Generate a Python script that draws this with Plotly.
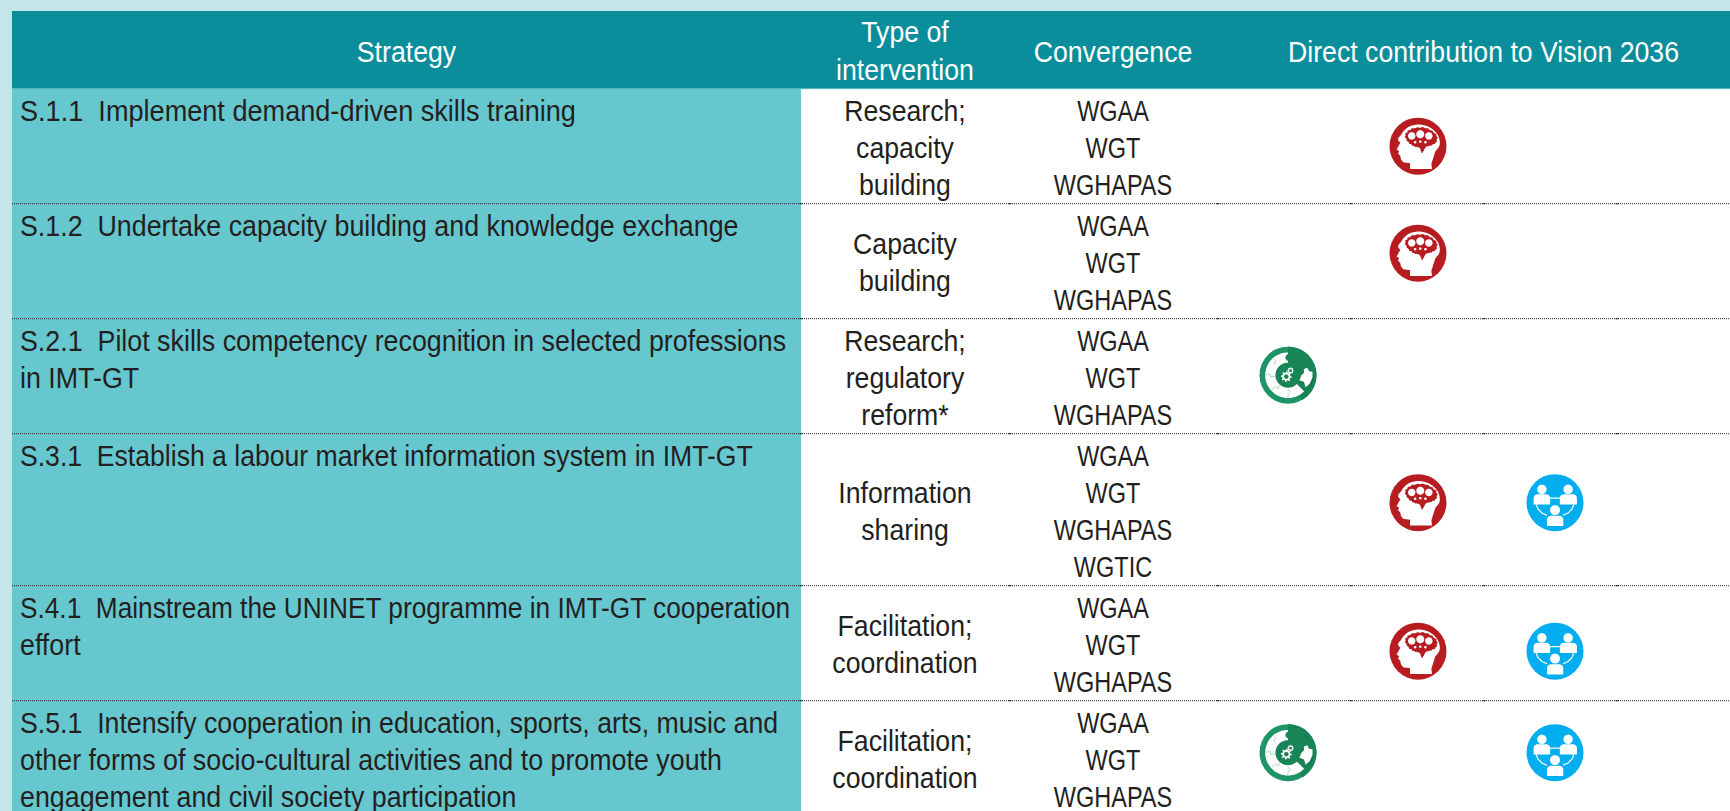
import json
import math
import plotly.graph_objects as go

# ---------- table content ----------
headers = ["Strategy", "Type of|intervention", "Convergence", "Direct contribution to Vision 2036"]
strategy = [
    ["S.1.1  Implement demand-driven skills training"],
    ["S.1.2  Undertake capacity building and knowledge exchange"],
    ["S.2.1  Pilot skills competency recognition in selected professions", "in IMT-GT"],
    ["S.3.1  Establish a labour market information system in IMT-GT"],
    ["S.4.1  Mainstream the UNINET programme in IMT-GT cooperation", "effort"],
    ["S.5.1  Intensify cooperation in education, sports, arts, music and",
     "other forms of socio-cultural activities and to promote youth",
     "engagement and civil society participation"],
]
intervention = [
    ["Research;", "capacity", "building"],
    ["Capacity", "building"],
    ["Research;", "regulatory", "reform*"],
    ["Information", "sharing"],
    ["Facilitation;", "coordination"],
    ["Facilitation;", "coordination"],
]
convergence = [
    ["WGAA", "WGT", "WGHAPAS"],
    ["WGAA", "WGT", "WGHAPAS"],
    ["WGAA", "WGT", "WGHAPAS"],
    ["WGAA", "WGT", "WGHAPAS", "WGTIC"],
    ["WGAA", "WGT", "WGHAPAS"],
    ["WGAA", "WGT", "WGHAPAS"],
]
# which Vision 2036 pillar icons each strategy contributes to
vision = [
    ["head"],
    ["head"],
    ["puzzle"],
    ["head", "people"],
    ["head", "people"],
    ["puzzle", "people"],
]

# ---------- layout constants ----------
W, H = 1730, 811
TABLE_L, STRAT_R = 12, 801
HEAD_T, HEAD_B = 11, 88.7
LINE_H, ROW_PAD = 37, 4
FS = 29
MID = 0.3 * FS
TYPE_X, CONV_X, STRAT_HDR_X, VIS_HDR_X = 905, 1113, 406.5, 1483.5
TEXT_L = 20
ICON_X = {"puzzle": 1288, "head": 1418, "people": 1555}
ICON_R = 28.5
ICON_COL = {"puzzle": "#1E9467", "head": "#B71C20", "people": "#02AEEF"}
ICON_SHIFT = [0, -8, -1, -7, 8, -5.5]
COL_TICKS = [801, 1010, 1218, 1351, 1484, 1617]
INK = "#231F20"
TEAL_D, TEAL_L, PAGE = "#0B8E9C", "#67C7CF", "#C4E6EB"
# the reference face is a condensed grotesque: horizontal squeeze per text trace
TEXT_SQUEEZE = [0.92, 0.925, 0.92, 0.81]
LINE_SQUEEZE = {"S.4.1": 0.905, "S.1.1": 0.935, "S.3.1": 0.917, "S.5.1": 0.921}

row_lines = [max(len(a), len(b), len(c)) for a, b, c in zip(strategy, intervention, convergence)]
row_top = [HEAD_B]
for n in row_lines:
    row_top.append(row_top[-1] + n * LINE_H + ROW_PAD)

FONT = "Liberation Sans, Arial, sans-serif"
shapes = []


def rect(x0, y0, x1, y1, col):
    shapes.append(dict(type="rect", xref="x", yref="y", x0=x0, y0=y0, x1=x1, y1=y1,
                       fillcolor=col, line_width=0, layer="below"))


def poly(cx, cy, pts, col, close=True, lw=0, linecol=None, layer="above"):
    d = "M" + " L".join(f"{cx + ICON_R * x:.2f},{cy + ICON_R * y:.2f}" for x, y in pts)
    if close:
        d += " Z"
    s = dict(type="path", xref="x", yref="y", path=d, layer=layer)
    if close:
        s["fillcolor"] = col
    s["line"] = dict(width=lw, color=linecol or col)
    shapes.append(s)


def disc(cx, cy, x, y, r, col):
    pts = [(x + r * math.cos(i * math.pi / 18), y + r * math.sin(i * math.pi / 18)) for i in range(36)]
    poly(cx, cy, pts, col)


def arc(r, a0, a1, n=30):
    return [(r * math.sin(math.radians(a0 + (a1 - a0) * i / n)),
             -r * math.cos(math.radians(a0 + (a1 - a0) * i / n))) for i in range(n + 1)]


def smooth(ctrl, k=8):
    """Catmull-Rom through glyph outline points."""
    out = []
    n = len(ctrl)
    for i in range(n):
        p0, p1, p2, p3 = ctrl[i - 1], ctrl[i], ctrl[(i + 1) % n], ctrl[(i + 2) % n]
        for j in range(k):
            t = j / k
            f = lambda a, b, c, d: 0.5 * (2 * b + (c - a) * t + (2 * a - 5 * b + 4 * c - d) * t * t
                                          + (3 * b - a - 3 * c + d) * t ** 3)
            out.append((f(p0[0], p1[0], p2[0], p3[0]), f(p0[1], p1[1], p2[1], p3[1])))
    return out


def head_icon(cx, cy):
    white, red = "#FFFFFF", ICON_COL["head"]
    top = smooth([(-0.62, -0.12), (-0.58, -0.42), (-0.34, -0.67), (0.02, -0.76), (0.42, -0.66),
                  (0.70, -0.38), (0.76, -0.05), (0.60, 0.20), (0.50, 0.42)])[:58]
    outline = top + [(0.47, 0.62), (0.49, 0.80), (-0.28, 0.80), (-0.28, 0.60), (-0.52, 0.56),
                     (-0.60, 0.46), (-0.62, 0.34), (-0.70, 0.26), (-0.66, 0.18), (-0.75, 0.12)]
    poly(cx, cy, outline, white)
    blob = [(-0.45, -0.38), (-0.28, -0.58), (0.08, -0.66), (0.42, -0.58), (0.66, -0.36), (0.62, -0.12),
            (0.42, -0.02), (0.28, 0.02), (0.22, 0.12), (0.14, 0.24), (0.08, 0.10), (0.02, 0.04),
            (-0.14, 0.0), (-0.34, -0.14)]
    brain = []
    for i, (x, y) in enumerate(smooth(blob, 4)):
        s = 1.04 if i % 2 else 0.97
        brain.append((0.1 + (x - 0.1) * s, -0.28 + (y + 0.28) * s))
    poly(cx, cy, brain, red)
    for x, y, r in [(-0.22, -0.36, 0.13), (0.08, -0.42, 0.14), (0.38, -0.36, 0.13)]:
        disc(cx, cy, x, y, r, white)
    for x, y in [(-0.10, -0.14), (0.08, -0.16), (0.26, -0.14)]:
        disc(cx, cy, x, y, 0.045, white)


def rounded_body(x0, y0, x1, y1):
    r = 0.12
    return [(x0, y1), (x0, y0 + r), (x0 + r * 0.3, y0 + r * 0.3), (x0 + r, y0), (x1 - r, y0),
            (x1 - r * 0.3, y0 + r * 0.3), (x1, y0 + r), (x1, y1)]


def people_icon(cx, cy):
    white = "#FFFFFF"
    # links between the three figures
    poly(cx, cy, [(-0.2, -0.16), (0.2, -0.16)], white, close=False, lw=1.2, linecol=white)
    for sgn in (-1, 1):
        pts = [(sgn * 0.66, 0.06), (sgn * 0.6, 0.22), (sgn * 0.46, 0.36), (sgn * 0.28, 0.44)]
        poly(cx, cy, pts, white, close=False, lw=1.2, linecol=white)
    for hx, hy, hr, b in [(-0.46, -0.47, 0.165, (-0.75, -0.3, -0.17, 0.06)),
                          (0.46, -0.47, 0.165, (0.17, -0.3, 0.77, 0.06)),
                          (0.0, 0.26, 0.175, (-0.28, 0.46, 0.29, 0.82))]:
        disc(cx, cy, hx, hy, hr, white)
        poly(cx, cy, rounded_body(*b), white)


def gear(cx, cy, x, y, r, hole):
    pts = []
    for i in range(32):
        a = i * math.pi / 16
        rr = r if (i // 2) % 2 == 0 else r * 0.72
        pts.append((x + rr * math.cos(a), y + rr * math.sin(a)))
    poly(cx, cy, pts, "#FFFFFF")
    disc(cx, cy, x, y, r * 0.42, hole)


def puzzle_icon(cx, cy):
    dark, white = "#178556", "#FFFFFF"
    shade = "#15784E"
    poly(cx, cy, [(0, 0)] + arc(1.0, 0, 150), dark)
    # white jigsaw ring, running anticlockwise from twelve o'clock
    poly(cx, cy, [(0, 0)] + arc(0.80, 135, 360, 50), white)
    poly(cx, cy, arc(0.44, 0, 360, 40), dark)
    # ring notch at the top and seams
    disc(cx, cy, 0.03, -0.62, 0.12, dark)
    seam = "#9CCDB6"
    for p in ([(-0.50, -0.58), (-0.42, -0.50), (-0.50, -0.44), (-0.44, -0.36)],
              [(-0.78, -0.02), (-0.62, -0.04), (-0.62, 0.06), (-0.46, 0.04)],
              [(-0.56, 0.50), (-0.44, 0.40), (-0.34, 0.46), (-0.28, 0.34)],
              [(-0.02, 0.78), (0.02, 0.66), (0.08, 0.60), (0.00, 0.48)]):
        poly(cx, cy, p, seam, close=False, lw=0.8, linecol=seam)
    # loose piece
    piece = [(0.40, 0.18), (0.47, 0.00), (0.56, -0.08), (0.56, -0.22), (0.68, -0.26), (0.74, -0.14),
             (0.86, -0.12), (0.86, 0.08), (0.76, 0.30), (0.62, 0.42), (0.56, 0.24)]
    poly(cx, cy, [(x + 0.04, y + 0.08) for x, y in piece], shade)
    poly(cx, cy, piece, white)
    gear(cx, cy, -0.06, 0.05, 0.19, dark)
    gear(cx, cy, 0.09, -0.16, 0.12, dark)


GLYPHS = {"head": head_icon, "people": people_icon, "puzzle": puzzle_icon}

# ---------- background blocks ----------
rect(TABLE_L, row_top[0], W, H, "#FFFFFF")
rect(TABLE_L, row_top[0], STRAT_R, H, TEAL_L)
rect(TABLE_L, HEAD_T, W, HEAD_B, TEAL_D)
shapes.append(dict(type="line", xref="x", yref="y", x0=TABLE_L, x1=W, y0=HEAD_B, y1=HEAD_B,
                   line=dict(color="#5FB9C2", width=1)))

# ---------- row rules ----------
for y in row_top[1:-1]:
    shapes.append(dict(type="line", xref="x", yref="y", x0=TABLE_L, x1=W, y0=y, y1=y,
                       line=dict(color="#222222", width=1, dash="1px,1px")))
    for x in COL_TICKS:
        shapes.append(dict(type="line", xref="x", yref="y", x0=x - 1.5, x1=x + 1.5, y0=y, y1=y,
                           line=dict(color="#222222", width=1)))

# ---------- text traces ----------
fig = go.Figure()


def add_text(xs, ys, txt, pos, col):
    fig.add_trace(go.Scatter(x=xs, y=ys, text=txt, mode="text", textposition=pos,
                             textfont=dict(family=FONT, size=FS, color=col),
                             hoverinfo="skip", showlegend=False, cliponaxis=True))


hx, hy, ht = [], [], []
for x, label in zip([STRAT_HDR_X, TYPE_X, CONV_X, VIS_HDR_X], headers):
    parts = label.split("|")
    bases = [63.5] if len(parts) == 1 else [43.5, 81]
    for b, p in zip(bases, parts):
        hx.append(x); hy.append(b - MID); ht.append(p)
add_text(hx, hy, ht, "middle center", "#FFFFFF")

sx, sy, st = [], [], []
tx, ty, tt = [], [], []
cx_, cy_, ct = [], [], []
for r, n in enumerate(row_lines):
    first = row_top[r] + 33.5 - MID
    for i, line in enumerate(strategy[r]):
        sx.append(TEXT_L); sy.append(first + i * LINE_H); st.append(line)
    off = (n - len(intervention[r])) * LINE_H / 2
    for i, line in enumerate(intervention[r]):
        tx.append(TYPE_X); ty.append(first + off + i * LINE_H); tt.append(line)
    off = (n - len(convergence[r])) * LINE_H / 2
    for i, line in enumerate(convergence[r]):
        cx_.append(CONV_X); cy_.append(first + off + i * LINE_H); ct.append(line)
add_text(sx, sy, st, "middle right", INK)
add_text(tx, ty, tt, "middle center", INK)
add_text(cx_, cy_, ct, "middle center", INK)

# ---------- Vision 2036 icons ----------
for kind in ICON_X:
    xs, ys = [], []
    for r, icons in enumerate(vision):
        if kind in icons:
            x = ICON_X[kind]
            y = (row_top[r] + row_top[r + 1]) / 2 + ICON_SHIFT[r]
            xs.append(x); ys.append(y)
            GLYPHS[kind](x, y)
    fig.add_trace(go.Scatter(x=xs, y=ys, mode="markers", hoverinfo="skip", showlegend=False,
                             marker=dict(size=2 * ICON_R, color=ICON_COL[kind], line_width=0)))

fig.update_layout(
    width=W, height=H, autosize=False,
    margin=dict(l=0, r=0, t=0, b=0, pad=0),
    paper_bgcolor=PAGE, plot_bgcolor=PAGE,
    shapes=shapes,
    xaxis=dict(range=[0, W], visible=False, fixedrange=True),
    yaxis=dict(range=[H, 0], visible=False, fixedrange=True),
)

post = """
document.body.style.margin='0';document.body.style.overflow='hidden';
document.body.style.background='%s';
var gd=document.getElementById('{plot_id}');var sq=%s;var ls=%s;
function squeeze(){
  gd.querySelectorAll('.scatterlayer .trace').forEach(function(tr,i){
    if(i>=sq.length)return;
    tr.querySelectorAll('.textpoint text').forEach(function(t){
      var x=parseFloat(t.getAttribute('x'));
      var k=ls[t.textContent.slice(0,5)]||sq[i];
      t.setAttribute('transform','translate('+x+' 0) scale('+k+' 1) translate('+(-x)+' 0)');
    });
  });
}
squeeze();gd.on('plotly_afterplot',squeeze);
""" % (PAGE, json.dumps(TEXT_SQUEEZE), json.dumps(LINE_SQUEEZE))

fig.write_html("out.html", config=dict(displayModeBar=False),
               default_width=W, default_height=H, post_script=post)
